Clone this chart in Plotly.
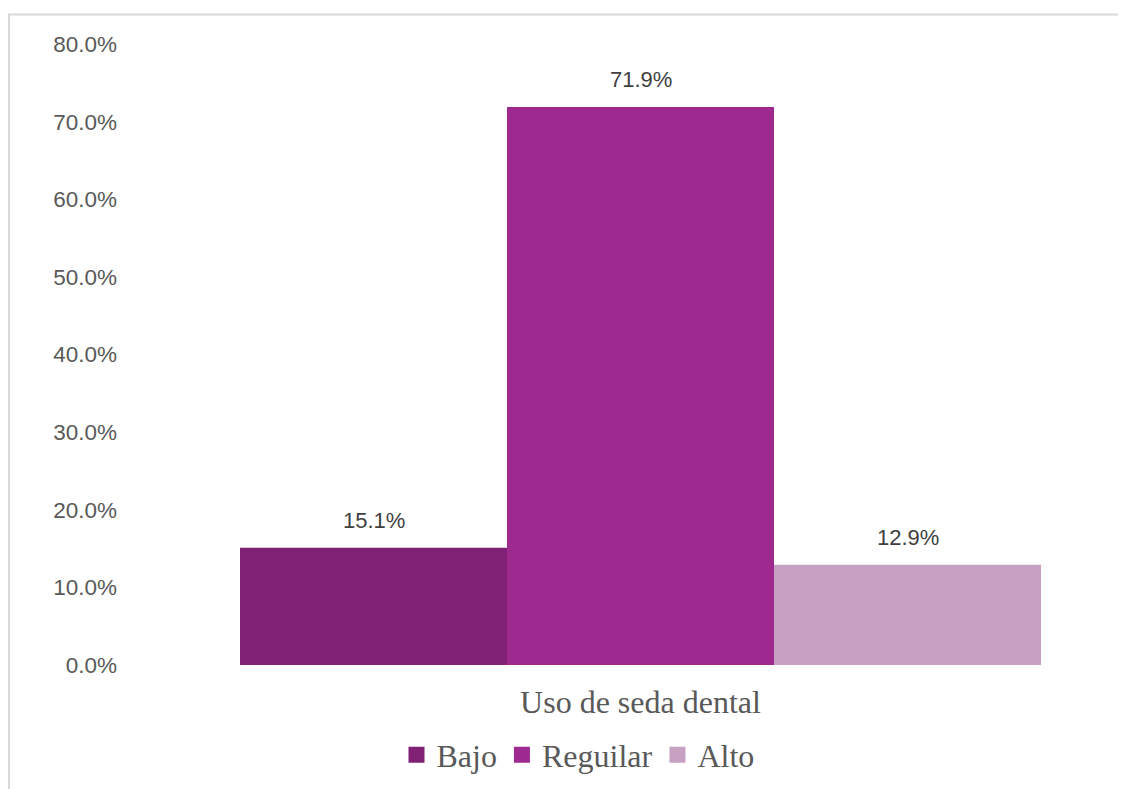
import plotly.graph_objects as go

categories = ["Uso de seda dental"]
series_names = ["Bajo", "Reguilar", "Alto"]
series_values = [[15.1], [71.9], [12.9]]
series_colors = ["#812175", "#9E2A8F", "#C7A1C1"]
y_ticks = [0, 10, 20, 30, 40, 50, 60, 70, 80]

# page body has an 8px margin; pixel targets below are shifted accordingly
L, R, T, B = 122, 8, 36, 132
W = 1126 - L - R
H = 789 - T - B
BARGAP = 0.4
PX_PER_UNIT = 801 / (1 - BARGAP)
CENTER = 632.5

fig = go.Figure()
n = len(series_names)
bw = (1 - BARGAP) / n
annotations = []
for i, (name, vals, col) in enumerate(zip(series_names, series_values, series_colors)):
    fig.add_trace(go.Bar(
        x=categories, y=vals, name=name, legendgroup=name, showlegend=False,
        marker=dict(color=col, line=dict(width=0)),
        hoverinfo="name+y",
    ))
    for j, v in enumerate(vals):
        annotations.append(dict(
            x=j - (1 - BARGAP) / 2 + bw * (i + 0.5), y=v, xref="x", yref="y",
            text=f"{v:.1f}%", showarrow=False, yshift=27,
            font=dict(family="Liberation Sans, Arial", size=22, color="#404040"),
        ))

# legend entries with larger square swatches
for name, col in zip(series_names, series_colors):
    fig.add_trace(go.Scatter(
        x=[None], y=[None], mode="markers", name=name, legendgroup=name,
        marker=dict(symbol="square", size=16, color=col, line=dict(width=0)),
        hoverinfo="skip",
    ))

fig.update_layout(
    width=1126, height=789,
    margin=dict(l=L, r=R, t=T, b=B),
    paper_bgcolor="white", plot_bgcolor="white",
    barmode="group", bargap=BARGAP, bargroupgap=0,
    showlegend=True,
    legend=dict(orientation="h", x=(570 - L) / W, xanchor="center",
                y=(657 - 747) / H, yanchor="middle",
                font=dict(family="Liberation Serif, Times New Roman", size=32, color="#595959"),
                itemwidth=30, tracegroupgap=0, itemclick=False),
    xaxis=dict(range=[-(CENTER - L) / PX_PER_UNIT, (W - (CENTER - L)) / PX_PER_UNIT],
               showgrid=False, zeroline=False, showline=False, ticks="",
               tickfont=dict(family="Liberation Serif, Times New Roman", size=32, color="#595959"),
               ticklabelstandoff=15),
    yaxis=dict(range=[0, 80], tickvals=y_ticks, ticktext=[f"{v:.1f}%" for v in y_ticks],
               showgrid=False, zeroline=False, showline=False, ticks="",
               tickfont=dict(family="Liberation Sans, Arial", size=22.5, color="#595959"),
               ticklabelstandoff=12),
    annotations=annotations,
    shapes=[
        dict(type="line", xref="paper", yref="paper",
             x0=(1 - L) / W, x1=(1 - L) / W, y0=(657 - 6.5) / H, y1=(657 - 800) / H,
             line=dict(color="#d9d9d9", width=2)),
        dict(type="line", xref="paper", yref="paper",
             x0=(0 - L) / W, x1=(1140 - L) / W, y0=(657 - 6.5) / H, y1=(657 - 6.5) / H,
             line=dict(color="#d9d9d9", width=2)),
    ],
)

fig.write_html("out.html")
